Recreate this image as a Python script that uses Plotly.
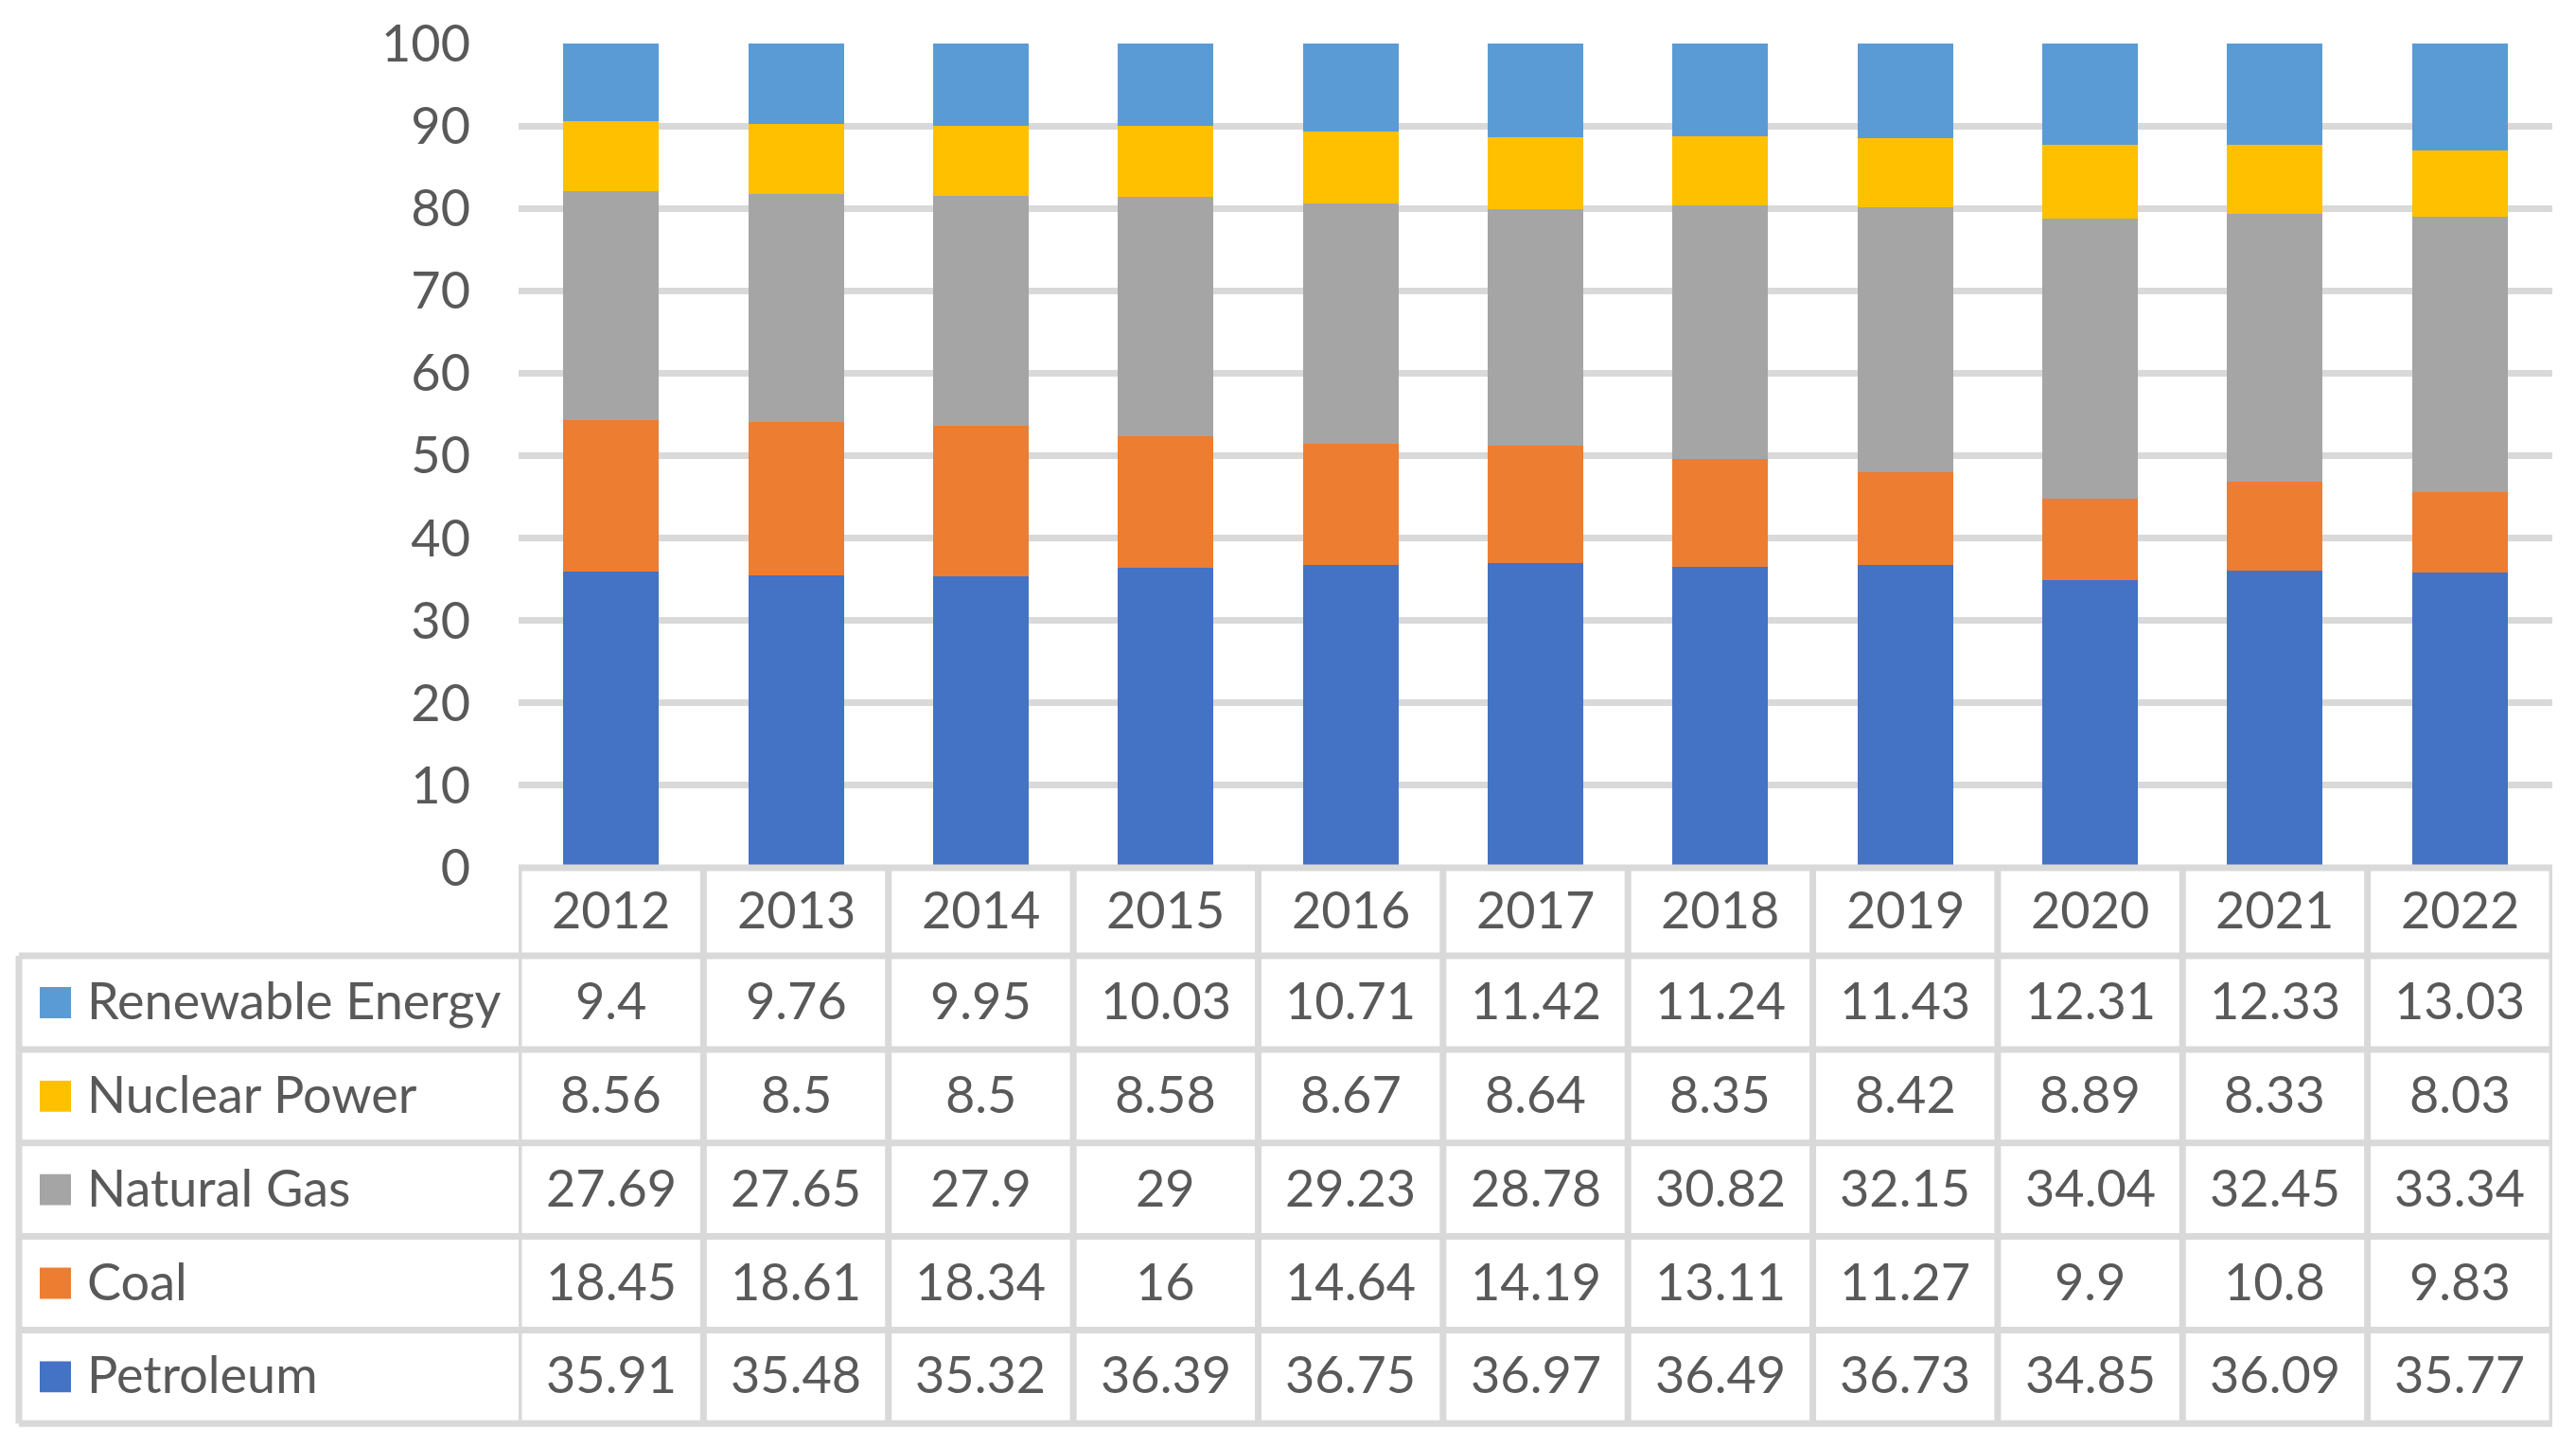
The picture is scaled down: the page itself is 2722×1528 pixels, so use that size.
import plotly.graph_objects as go

years = ["2012", "2013", "2014", "2015", "2016", "2017", "2018", "2019", "2020", "2021", "2022"]
petroleum = [35.91, 35.48, 35.32, 36.39, 36.75, 36.97, 36.49, 36.73, 34.85, 36.09, 35.77]
coal = [18.45, 18.61, 18.34, 16, 14.64, 14.19, 13.11, 11.27, 9.9, 10.8, 9.83]
natural_gas = [27.69, 27.65, 27.9, 29, 29.23, 28.78, 30.82, 32.15, 34.04, 32.45, 33.34]
nuclear = [8.56, 8.5, 8.5, 8.58, 8.67, 8.64, 8.35, 8.42, 8.89, 8.33, 8.03]
renewable = [9.4, 9.76, 9.95, 10.03, 10.71, 11.42, 11.24, 11.43, 12.31, 12.33, 13.03]
y_ticks = [0, 10, 20, 30, 40, 50, 60, 70, 80, 90, 100]

# stacking order bottom -> top
series = [
    ("Petroleum", petroleum, "#4472C4"),
    ("Coal", coal, "#ED7D31"),
    ("Natural Gas", natural_gas, "#A5A5A5"),
    ("Nuclear Power", nuclear, "#FFC000"),
    ("Renewable Energy", renewable, "#5B9BD5"),
]
# table row order (top -> bottom)
table_rows = series[::-1]

W, H = 2722, 1528
L, R, T, B = 548, 25, 42, 611
PW = W - L - R
PH = H - T - B
FONT = "Lato"
TXT = "#595959"
GRID = "#D9D9D9"
LW = 7

def py(p):  # pixel y -> paper y
    return (H - B - p) / PH

def px(p):  # pixel x -> paper x
    return (p - L) / PW

fig = go.Figure()
for name, vals, col in series:
    fig.add_trace(go.Bar(x=years, y=vals, name=name, marker=dict(color=col, line=dict(width=0)),
                         showlegend=False))

# table geometry (pixels)
top = H - B
header_bottom = 1010.5
table_bottom = 1507
row_h = (table_bottom - header_bottom) / len(table_rows)
row_lines = [header_bottom + k * row_h for k in range(len(table_rows) + 1)]
left_edge = 20

shapes = []
shapes.append(dict(type="line", xref="x", yref="paper", x0=-0.5, x1=len(years) - 0.5,
                   y0=py(top), y1=py(top), line=dict(color=GRID, width=LW)))
for yl in row_lines:
    shapes.append(dict(type="line", xref="paper", yref="paper", x0=px(left_edge), x1=1,
                       y0=py(yl), y1=py(yl), line=dict(color=GRID, width=LW)))
shapes.append(dict(type="line", xref="paper", yref="paper", x0=px(left_edge), x1=px(left_edge),
                   y0=py(header_bottom), y1=py(table_bottom), line=dict(color=GRID, width=LW)))
for k in range(len(years) + 1):
    shapes.append(dict(type="line", xref="x", yref="paper", x0=k - 0.5, x1=k - 0.5,
                       y0=py(top), y1=py(table_bottom), line=dict(color=GRID, width=LW)))

annotations = []
fnt = dict(family=FONT, size=54, color=TXT)
YS = 3
hy = (top + header_bottom) / 2
for i, yr in enumerate(years):
    annotations.append(dict(x=i, xref="x", y=py(hy), yref="paper", text=yr, showarrow=False,
                            font=fnt, xanchor="center", yanchor="middle", yshift=YS))
sq = 33
for r, (name, vals, col) in enumerate(table_rows):
    cy = header_bottom + (r + 0.5) * row_h
    shapes.append(dict(type="rect", xref="paper", yref="paper", x0=px(42), x1=px(42 + sq),
                       y0=py(cy + sq / 2), y1=py(cy - sq / 2), fillcolor=col, line=dict(width=0)))
    annotations.append(dict(x=px(90), xref="paper", y=py(cy), yref="paper", text=name, showarrow=False,
                            font=fnt, xanchor="left", yanchor="middle", yshift=YS))
    for i, v in enumerate(vals):
        annotations.append(dict(x=i, xref="x", y=py(cy), yref="paper", text=f"{v:g}", showarrow=False,
                                font=fnt, xanchor="center", yanchor="middle", yshift=YS))

fig.update_layout(
    width=W, height=H,
    margin=dict(l=L, r=R, t=T, b=B, pad=0),
    paper_bgcolor="white", plot_bgcolor="white",
    barmode="stack", bargap=0.483,
    font=dict(family=FONT, color=TXT, size=54),
    xaxis=dict(type="category", categoryorder="array", categoryarray=years, range=[-0.5, len(years) - 0.5],
               showticklabels=False, showgrid=False, zeroline=False, showline=False, ticks=""),
    yaxis=dict(range=[0, 100], tickvals=y_ticks, showgrid=True, gridcolor=GRID, gridwidth=LW,
               zeroline=False, showline=False, ticks="", ticklabelstandoff=50,
               tickfont=dict(family=FONT, size=54, color=TXT)),
    shapes=shapes, annotations=annotations,
)
fig.write_html("out.html", config={"displayModeBar": False},
               post_script="document.body.style.margin='0';")
